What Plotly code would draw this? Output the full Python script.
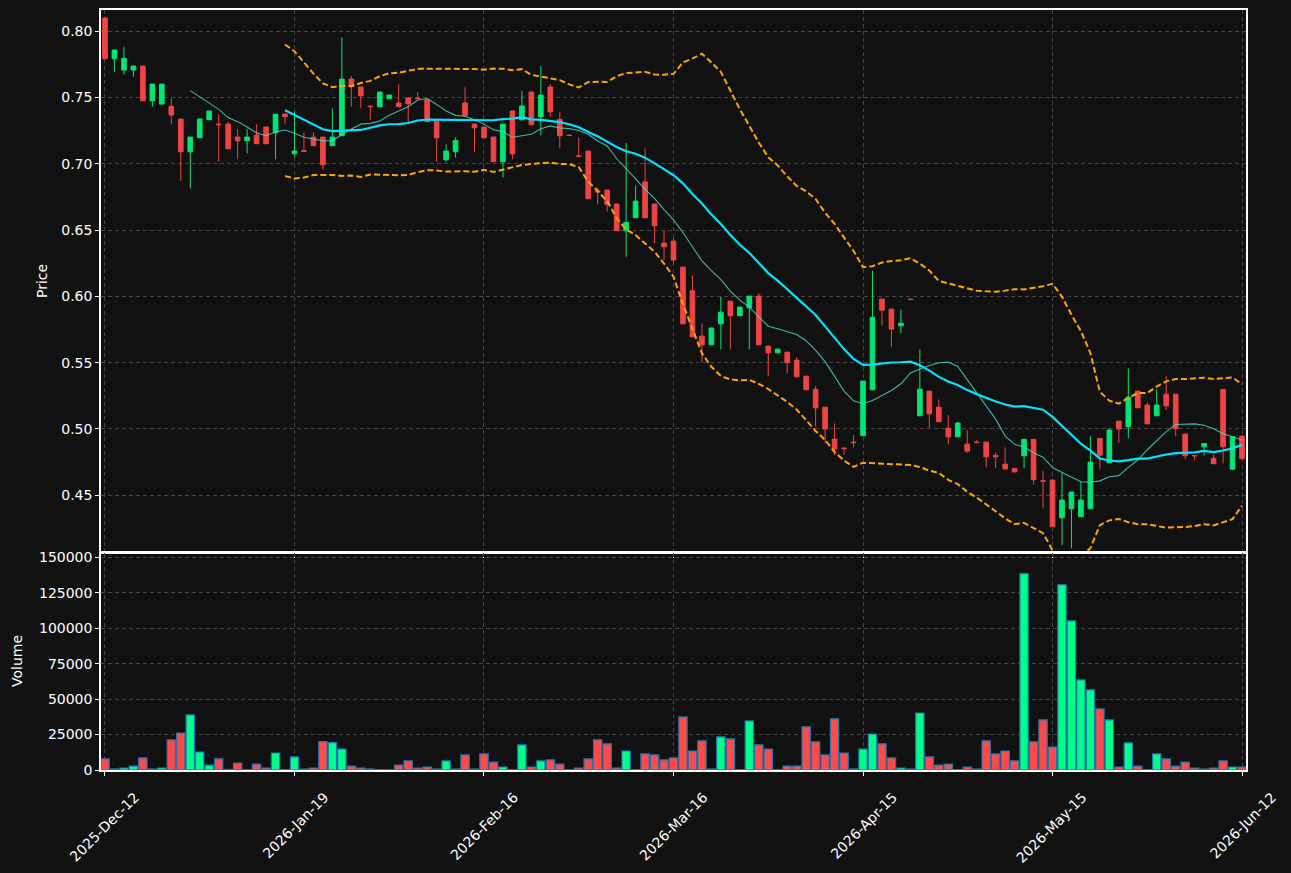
import pandas as pd
import plotly.graph_objects as go

# ---------------- data ----------------
opens = [0.810, 0.7793, 0.7708, 0.7708, 0.7738, 0.7476, 0.7451, 0.7434, 0.7338, 0.7091,
         0.7197, 0.7333, 0.7300, 0.7300, 0.7202, 0.7174, 0.7217, 0.7278, 0.7235, 0.7376,
         0.7076, 0.7100, 0.7202, 0.7202, 0.7137, 0.7212, 0.7640, 0.7580, 0.7436, 0.7431,
         0.7491, 0.7459, 0.7497, 0.7496, 0.7484, 0.7323, 0.7031, 0.7091, 0.7459, 0.7300,
         0.7278, 0.7202, 0.7016, 0.7399, 0.7333, 0.7542, 0.7356, 0.7580, 0.7336, 0.7217,
         0.7060, 0.7097, 0.6795, 0.6802, 0.6697, 0.6495, 0.6593, 0.6863, 0.6697, 0.6402,
         0.6417, 0.6221, 0.6042, 0.5700, 0.5635, 0.5793, 0.5964, 0.5854, 0.5914, 0.6002,
         0.5625, 0.5574, 0.5579, 0.5519, 0.5398, 0.5300, 0.5164, 0.4923, 0.4856, 0.4900,
         0.4948, 0.5295, 0.5980, 0.5904, 0.5778, 0.5979, 0.5099, 0.5285, 0.5164, 0.5006,
         0.4940, 0.4885, 0.4900, 0.4900, 0.4800, 0.4733, 0.4702, 0.4797, 0.4921, 0.4608,
         0.4614, 0.4329, 0.4397, 0.4337, 0.4397, 0.4928, 0.4744, 0.5059, 0.5016, 0.5285,
         0.5180, 0.5099, 0.5262, 0.5262, 0.4961, 0.4799, 0.4865, 0.4778, 0.5298, 0.4696,
         0.4946]
highs = [0.811, 0.7860, 0.7881, 0.7740, 0.7740, 0.7602, 0.7602, 0.7494, 0.7338, 0.7202,
         0.7338, 0.7399, 0.7374, 0.7318, 0.7263, 0.7263, 0.7298, 0.7278, 0.7374, 0.7376,
         0.7393, 0.7238, 0.7238, 0.7202, 0.7419, 0.7955, 0.7663, 0.7580, 0.7436, 0.7542,
         0.7519, 0.7600, 0.7497, 0.7540, 0.7484, 0.7323, 0.7147, 0.7200, 0.7577, 0.7300,
         0.7278, 0.7202, 0.7300, 0.7399, 0.7552, 0.7542, 0.7738, 0.7602, 0.7393, 0.7217,
         0.7200, 0.7097, 0.6820, 0.6802, 0.6697, 0.7157, 0.6838, 0.7117, 0.6697, 0.6495,
         0.6438, 0.6221, 0.6158, 0.5796, 0.5761, 0.5997, 0.5964, 0.5919, 0.6002, 0.6022,
         0.5625, 0.5602, 0.5579, 0.5540, 0.5398, 0.5323, 0.5164, 0.5041, 0.4856, 0.4954,
         0.5361, 0.6193, 0.5980, 0.5904, 0.5900, 0.5980, 0.5600, 0.5285, 0.5222, 0.5104,
         0.5054, 0.4990, 0.4914, 0.4900, 0.4822, 0.4860, 0.4702, 0.4921, 0.4921, 0.4681,
         0.4614, 0.4664, 0.4523, 0.4601, 0.4946, 0.4928, 0.5004, 0.5059, 0.5456, 0.5285,
         0.5200, 0.5298, 0.5398, 0.5262, 0.4961, 0.4799, 0.4890, 0.4805, 0.5298, 0.4940,
         0.4946]
lows = [0.779, 0.7695, 0.7675, 0.7657, 0.7476, 0.7431, 0.7451, 0.7298, 0.6872, 0.6815,
        0.7197, 0.7333, 0.7016, 0.7114, 0.7034, 0.7080, 0.7152, 0.7152, 0.7034, 0.7298,
        0.7054, 0.7091, 0.7137, 0.6958, 0.7137, 0.7212, 0.7431, 0.7419, 0.7331, 0.7431,
        0.7491, 0.7431, 0.7298, 0.7490, 0.7318, 0.7016, 0.7016, 0.7046, 0.7363, 0.7091,
        0.7197, 0.7016, 0.6898, 0.7034, 0.7333, 0.7295, 0.7215, 0.7356, 0.7117, 0.7213,
        0.7055, 0.6737, 0.6694, 0.6639, 0.6495, 0.6299, 0.6593, 0.6593, 0.6400, 0.6274,
        0.6250, 0.5793, 0.5695, 0.5502, 0.5635, 0.5600, 0.5600, 0.5854, 0.5600, 0.5635,
        0.5398, 0.5574, 0.5419, 0.5393, 0.5295, 0.5016, 0.4891, 0.4802, 0.4802, 0.4859,
        0.4948, 0.5295, 0.5778, 0.5620, 0.5721, 0.5975, 0.5099, 0.5008, 0.5054, 0.4883,
        0.4940, 0.4819, 0.4896, 0.4709, 0.4702, 0.4697, 0.4670, 0.4702, 0.4581, 0.4400,
        0.4261, 0.4123, 0.4098, 0.4337, 0.4397, 0.4694, 0.4744, 0.4895, 0.4928, 0.5159,
        0.5038, 0.5099, 0.5142, 0.4946, 0.4770, 0.4762, 0.4797, 0.4737, 0.4740, 0.4696,
        0.4774]
closes = [0.7793, 0.7859, 0.7796, 0.7738, 0.7476, 0.7602, 0.7602, 0.7368, 0.7091, 0.7202,
          0.7338, 0.7399, 0.7296, 0.7114, 0.7174, 0.7202, 0.7152, 0.7152, 0.7374, 0.7356,
          0.7097, 0.7095, 0.7137, 0.6993, 0.7202, 0.7640, 0.7587, 0.7514, 0.7432, 0.7542,
          0.7519, 0.7431, 0.7454, 0.7492, 0.7318, 0.7197, 0.7097, 0.7177, 0.7363, 0.7272,
          0.7197, 0.7016, 0.7300, 0.7076, 0.7436, 0.7295, 0.7519, 0.7393, 0.7212, 0.7214,
          0.7056, 0.6737, 0.6789, 0.6694, 0.6495, 0.6558, 0.6719, 0.6593, 0.6533, 0.6374,
          0.6274, 0.5793, 0.5695, 0.5635, 0.5761, 0.5881, 0.5854, 0.5919, 0.6002, 0.5635,
          0.5574, 0.5602, 0.5499, 0.5393, 0.5295, 0.5159, 0.4999, 0.4848, 0.4851, 0.4896,
          0.5361, 0.5842, 0.5896, 0.5753, 0.5798, 0.5976, 0.5300, 0.5114, 0.5054, 0.4940,
          0.5044, 0.4832, 0.4897, 0.4789, 0.4789, 0.4697, 0.4676, 0.4921, 0.4616, 0.4605,
          0.4261, 0.4463, 0.4523, 0.4463, 0.4749, 0.4802, 0.4991, 0.4999, 0.5240, 0.5159,
          0.5038, 0.5180, 0.5174, 0.5001, 0.4797, 0.4797, 0.4890, 0.4737, 0.4865, 0.4940,
          0.4774]
volumes = [7800, 700, 1400, 2800, 8500, 700, 1400, 21200, 26100, 38800,
           12700, 3500, 7800, 400, 4900, 300, 4200, 1400, 12000, 300,
           9200, 700, 1400, 20000, 19300, 14800, 2800, 1400, 700, 300,
           200, 3500, 6400, 1400, 2100, 700, 6400, 700, 10600, 700,
           11300, 5600, 2100, 300, 17700, 2100, 6400, 7100, 4200, 300,
           1400, 7800, 21200, 18400, 1400, 13400, 300, 11300, 10600, 7100,
           8500, 37400, 13400, 20500, 700, 23300, 21900, 300, 34600, 17700,
           14800, 300, 2800, 2800, 30400, 19800, 10600, 36000, 12000, 700,
           14800, 25400, 18400, 8500, 1400, 700, 40200, 9200, 3500, 4200,
           300, 2100, 700, 20500, 11300, 13400, 6400, 138400, 19800, 35300,
           16200, 130600, 105200, 63500, 56500, 43100, 35300, 2100, 19100, 2800,
           300, 11300, 7800, 2800, 5600, 1400, 700, 1400, 6400, 2100,
           2100]
tick_labels = ["2025-Dec-12", "2026-Jan-19", "2026-Feb-16", "2026-Mar-16",
               "2026-Apr-15", "2026-May-15", "2026-Jun-12"]
price_ticks = [0.45, 0.50, 0.55, 0.60, 0.65, 0.70, 0.75, 0.80]
volume_ticks = [0, 25000, 50000, 75000, 100000, 125000, 150000]

# ---------------- derived ----------------
idx = list(range(len(closes)))
tick_positions = list(range(0, len(closes), 20))
close_s = pd.Series(closes)
ma10 = close_s.rolling(10).mean()
ma20 = close_s.rolling(20).mean()
sd20 = close_s.rolling(20).std()
bb_up = ma20 + 2 * sd20
bb_lo = ma20 - 2 * sd20

UP_C = "#00e676"
DN_C = "#ef4444"
VUP_C = "#00ff88"
VDN_C = "#ff4a4a"
vol_colors = [VUP_C if c >= o else VDN_C for o, c in zip(opens, closes)]

BG = "#111111"
W, H = 1291, 873
FONT = dict(family="DejaVu Sans", size=14, color="white")

fig = go.Figure()

fig.add_trace(go.Scatter(x=idx, y=bb_up, mode="lines", xaxis="x", yaxis="y",
                         line=dict(color="#ffa500", width=2, dash="6px,3px"), hoverinfo="skip"))
fig.add_trace(go.Scatter(x=idx, y=bb_lo, mode="lines", xaxis="x", yaxis="y",
                         line=dict(color="#ffa500", width=2, dash="6px,3px"), hoverinfo="skip"))
fig.add_trace(go.Scatter(x=idx, y=ma10, mode="lines", xaxis="x", yaxis="y",
                         line=dict(color="rgba(64,214,196,0.85)", width=1.1), hoverinfo="skip"))
fig.add_trace(go.Scatter(x=idx, y=ma20, mode="lines", xaxis="x", yaxis="y",
                         line=dict(color="#00e5ff", width=2.2), hoverinfo="skip"))
fig.add_trace(go.Candlestick(
    x=idx, open=opens, high=highs, low=lows, close=closes, xaxis="x", yaxis="y",
    increasing=dict(line=dict(color=UP_C, width=1), fillcolor=UP_C),
    decreasing=dict(line=dict(color=DN_C, width=1), fillcolor=DN_C),
    whiskerwidth=0))
fig.add_trace(go.Bar(x=idx, y=volumes, xaxis="x2", yaxis="y2", width=0.88,
                     marker=dict(color=vol_colors, line=dict(color="#1f77b4", width=1.2))))

xdom = [101 / W, 1246 / W]
xrange = [-0.42, 120.42]
grid = dict(showgrid=True, gridcolor="#444444", griddash="4px,3px", gridwidth=1)
axline = dict(showline=True, linecolor="white", linewidth=1.5, mirror=True, automargin=False,
              ticks="outside", ticklen=4, tickcolor="white", tickfont=FONT, zeroline=False)

fig.update_layout(
    width=W, height=H, autosize=False,
    margin=dict(l=0, r=0, t=0, b=0, pad=0),
    paper_bgcolor=BG, plot_bgcolor=BG,
    showlegend=False, font=FONT,
    xaxis=dict(domain=xdom, range=xrange, anchor="y", tickvals=tick_positions,
               showticklabels=False, rangeslider=dict(visible=False), **grid, **axline),
    yaxis=dict(domain=[1 - 552 / H, 1 - 10 / H], range=[0.4071, 0.8161], anchor="x",
               tickvals=price_ticks, tickformat=".2f", **grid, **axline),
    xaxis2=dict(domain=xdom, range=xrange, anchor="y2", tickvals=tick_positions,
                ticktext=tick_labels, tickangle=-45, ticklabelshift=30, ticklabelstandoff=8,
                **grid, **axline),
    yaxis2=dict(domain=[1 - 770 / H, 1 - 553 / H], range=[0, 153000], anchor="x2",
                tickvals=volume_ticks, tickformat="d", **grid, **axline),
    annotations=[
        dict(text="Price", x=42 / W, y=1 - 281 / H, xref="paper", yref="paper",
             xanchor="center", yanchor="middle", textangle=-90, showarrow=False, font=FONT),
        dict(text="Volume", x=17 / W, y=1 - 661 / H, xref="paper", yref="paper",
             xanchor="center", yanchor="middle", textangle=-90, showarrow=False, font=FONT),
    ],
)

fig.write_html("out.html")
